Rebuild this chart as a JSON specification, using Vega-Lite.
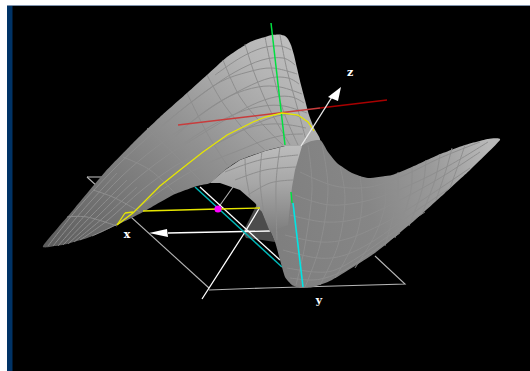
{"$schema":"https://vega.github.io/schema/vega-lite/v6.json","width":530,"height":371,"padding":0,"autosize":{"type":"none"},"background":"#000000","view":{"stroke":null},
"datasets":{
"frame":[{"x":0,"x2":530,"y":0,"y2":5,"p":"white"},{"x":0,"x2":7,"y":0,"y2":371,"p":"white"},{"x":7,"x2":530,"y":5,"y2":6,"p":"rule"},{"x":7,"x2":12.5,"y":6,"y2":371,"p":"blue"}],
"surface":[
{"s":"hole","x":257,"y":204},{"s":"hole","x":262,"y":212},{"s":"hole","x":275,"y":242},{"s":"hole","x":262,"y":240},{"s":"hole","x":246,"y":238},{"s":"hole","x":243,"y":232},
{"s":"upper","x":43,"y":246},{"s":"upper","x":74,"y":209},{"s":"upper","x":105,"y":172},{"s":"upper","x":133,"y":143},{"s":"upper","x":160,"y":117},{"s":"upper","x":187,"y":93},{"s":"upper","x":207,"y":75},{"s":"upper","x":227,"y":57},{"s":"upper","x":250,"y":42},{"s":"upper","x":265,"y":37},{"s":"upper","x":272,"y":35},{"s":"upper","x":280,"y":34.5},{"s":"upper","x":285,"y":36},{"s":"upper","x":288,"y":39},{"s":"upper","x":291,"y":45},{"s":"upper","x":294,"y":55},{"s":"upper","x":297,"y":68},{"s":"upper","x":301,"y":85},{"s":"upper","x":305,"y":100},{"s":"upper","x":309,"y":115},{"s":"upper","x":314,"y":128},{"s":"upper","x":320,"y":140},{"s":"upper","x":302,"y":146},{"s":"upper","x":285,"y":146},{"s":"upper","x":265,"y":151},{"s":"upper","x":240,"y":160},{"s":"upper","x":225,"y":170},{"s":"upper","x":210,"y":183},{"s":"upper","x":197,"y":186},{"s":"upper","x":173,"y":195},{"s":"upper","x":143,"y":212},{"s":"upper","x":117,"y":225},{"s":"upper","x":90,"y":237},{"s":"upper","x":67,"y":244},{"s":"upper","x":55,"y":246},
{"s":"lower","x":302,"y":146},{"s":"lower","x":320,"y":140},{"s":"lower","x":328,"y":152},{"s":"lower","x":337,"y":163},{"s":"lower","x":352,"y":173},{"s":"lower","x":368,"y":178},{"s":"lower","x":392,"y":175},{"s":"lower","x":412,"y":167},{"s":"lower","x":438,"y":155},{"s":"lower","x":465,"y":145},{"s":"lower","x":488,"y":139},{"s":"lower","x":500,"y":140},{"s":"lower","x":470,"y":170},{"s":"lower","x":445,"y":193},{"s":"lower","x":415,"y":220},{"s":"lower","x":375,"y":253},{"s":"lower","x":332,"y":280},{"s":"lower","x":313,"y":287},{"s":"lower","x":300,"y":288},{"s":"lower","x":292,"y":285},{"s":"lower","x":285,"y":277},{"s":"lower","x":280,"y":260},{"s":"lower","x":275,"y":242},{"s":"lower","x":262,"y":212},{"s":"lower","x":257,"y":204},
{"s":"front","x":302,"y":146},{"s":"front","x":285,"y":146},{"s":"front","x":265,"y":151},{"s":"front","x":240,"y":160},{"s":"front","x":225,"y":170},{"s":"front","x":210,"y":183},{"s":"front","x":220,"y":183},{"s":"front","x":240,"y":190},{"s":"front","x":255,"y":203},{"s":"front","x":262,"y":212},{"s":"front","x":270,"y":232},{"s":"front","x":288,"y":225},{"s":"front","x":292,"y":187},{"s":"front","x":295,"y":170}
],
"grid":[
{"s":"L1","x":48,"y":246},{"s":"L1","x":78,"y":208},{"s":"L1","x":113,"y":170},{"s":"L1","x":145,"y":140},{"s":"L1","x":175,"y":115},{"s":"L1","x":205,"y":92},{"s":"L1","x":235,"y":72},{"s":"L1","x":262,"y":60},{"s":"L1","x":283,"y":58},{"s":"L1","x":295,"y":65},
{"s":"L2","x":58,"y":246},{"s":"L2","x":88,"y":212},{"s":"L2","x":122,"y":176},{"s":"L2","x":155,"y":148},{"s":"L2","x":187,"y":125},{"s":"L2","x":215,"y":105},{"s":"L2","x":245,"y":88},{"s":"L2","x":270,"y":78},{"s":"L2","x":288,"y":78},{"s":"L2","x":299,"y":84},
{"s":"L3","x":68,"y":244},{"s":"L3","x":98,"y":216},{"s":"L3","x":132,"y":183},{"s":"L3","x":165,"y":157},{"s":"L3","x":197,"y":137},{"s":"L3","x":225,"y":120},{"s":"L3","x":252,"y":105},{"s":"L3","x":275,"y":97},{"s":"L3","x":292,"y":97},{"s":"L3","x":304,"y":103},
{"s":"L4","x":80,"y":240},{"s":"L4","x":108,"y":220},{"s":"L4","x":142,"y":190},{"s":"L4","x":175,"y":166},{"s":"L4","x":205,"y":150},{"s":"L4","x":233,"y":135},{"s":"L4","x":260,"y":122},{"s":"L4","x":282,"y":115},{"s":"L4","x":298,"y":116},{"s":"L4","x":310,"y":124},
{"s":"L5","x":92,"y":236},{"s":"L5","x":120,"y":222},{"s":"L5","x":152,"y":197},{"s":"L5","x":185,"y":175},{"s":"L5","x":215,"y":160},{"s":"L5","x":240,"y":150},{"s":"L5","x":265,"y":140},{"s":"L5","x":285,"y":135},{"s":"L5","x":303,"y":134},
{"s":"L0","x":53,"y":246},{"s":"L0","x":83,"y":210},{"s":"L0","x":117,"y":173},
{"s":"L6","x":63,"y":245},{"s":"L6","x":93,"y":214},{"s":"L6","x":127,"y":180},
{"s":"L7","x":74,"y":242},{"s":"L7","x":103,"y":218},{"s":"L7","x":137,"y":187},
{"s":"M0","x":215,"y":75},{"s":"M0","x":240,"y":58},{"s":"M0","x":262,"y":48},{"s":"M0","x":280,"y":46},{"s":"M0","x":291,"y":50},
{"s":"M1","x":160,"y":128},{"s":"M1","x":190,"y":103},{"s":"M1","x":220,"y":82},{"s":"M1","x":248,"y":72},{"s":"M1","x":272,"y":68},{"s":"M1","x":297,"y":74},
{"s":"M2","x":170,"y":141},{"s":"M2","x":200,"y":115},{"s":"M2","x":230,"y":96},{"s":"M2","x":258,"y":87},{"s":"M2","x":280,"y":87},{"s":"M2","x":302,"y":94},
{"s":"M3","x":180,"y":146},{"s":"M3","x":211,"y":126},{"s":"M3","x":240,"y":112},{"s":"M3","x":264,"y":106},{"s":"M3","x":284,"y":106},{"s":"M3","x":307,"y":113},
{"s":"M4","x":190,"y":156},{"s":"M4","x":220,"y":142},{"s":"M4","x":248,"y":128},{"s":"M4","x":271,"y":124},{"s":"M4","x":290,"y":125},{"s":"M4","x":306,"y":128},
{"s":"C0","x":67,"y":217},{"s":"C0","x":87,"y":217},{"s":"C0","x":117,"y":226},
{"s":"C1","x":93,"y":190},{"s":"C1","x":115,"y":198},{"s":"C1","x":140,"y":212},
{"s":"C2","x":123,"y":157},{"s":"C2","x":150,"y":170},{"s":"C2","x":175,"y":193},
{"s":"C3","x":147,"y":128},{"s":"C3","x":177,"y":157},{"s":"C3","x":200,"y":180},
{"s":"C4","x":187,"y":93},{"s":"C4","x":207,"y":133},{"s":"C4","x":227,"y":165},
{"s":"C5","x":207,"y":75},{"s":"C5","x":223,"y":103},{"s":"C5","x":247,"y":133},{"s":"C5","x":265,"y":150},
{"s":"C6","x":223,"y":60},{"s":"C6","x":240,"y":97},{"s":"C6","x":265,"y":127},{"s":"C6","x":283,"y":145},
{"s":"C7","x":245,"y":44},{"s":"C7","x":255,"y":75},{"s":"C7","x":270,"y":110},{"s":"C7","x":290,"y":145},
{"s":"C8","x":265,"y":37},{"s":"C8","x":272,"y":70},{"s":"C8","x":283,"y":110},{"s":"C8","x":298,"y":145},
{"s":"C9","x":280,"y":35},{"s":"C9","x":287,"y":70},{"s":"C9","x":298,"y":110},{"s":"C9","x":306,"y":140},
{"s":"F1","x":225,"y":172},{"s":"F1","x":260,"y":160},{"s":"F1","x":298,"y":155},
{"s":"F2","x":235,"y":180},{"s":"F2","x":265,"y":170},{"s":"F2","x":296,"y":167},
{"s":"F3","x":248,"y":195},{"s":"F3","x":270,"y":183},{"s":"F3","x":293,"y":180},
{"s":"F4","x":262,"y":151},{"s":"F4","x":260,"y":180},{"s":"F4","x":264,"y":215},
{"s":"F5","x":280,"y":147},{"s":"F5","x":276,"y":185},{"s":"F5","x":277,"y":240},
{"s":"F6","x":245,"y":158},{"s":"F6","x":246,"y":175},{"s":"F6","x":250,"y":197},
{"s":"W0","x":480,"y":142},{"s":"W0","x":440,"y":158},{"s":"W0","x":405,"y":175},{"s":"W0","x":370,"y":187},{"s":"W0","x":335,"y":186},{"s":"W0","x":300,"y":172},
{"s":"W1","x":488,"y":142},{"s":"W1","x":450,"y":165},{"s":"W1","x":410,"y":185},{"s":"W1","x":370,"y":200},{"s":"W1","x":330,"y":205},{"s":"W1","x":295,"y":195},
{"s":"W2","x":480,"y":152},{"s":"W2","x":440,"y":178},{"s":"W2","x":400,"y":200},{"s":"W2","x":360,"y":218},{"s":"W2","x":325,"y":222},{"s":"W2","x":290,"y":215},
{"s":"W3","x":470,"y":168},{"s":"W3","x":430,"y":195},{"s":"W3","x":390,"y":220},{"s":"W3","x":350,"y":238},{"s":"W3","x":320,"y":242},{"s":"W3","x":285,"y":235},
{"s":"W4","x":450,"y":188},{"s":"W4","x":410,"y":215},{"s":"W4","x":375,"y":240},{"s":"W4","x":345,"y":255},{"s":"W4","x":318,"y":258},{"s":"W4","x":283,"y":250},
{"s":"W5","x":425,"y":212},{"s":"W5","x":390,"y":235},{"s":"W5","x":360,"y":256},{"s":"W5","x":335,"y":270},{"s":"W5","x":315,"y":272},{"s":"W5","x":287,"y":268},
{"s":"W5b","x":400,"y":233},{"s":"W5b","x":372,"y":252},{"s":"W5b","x":345,"y":270},{"s":"W5b","x":325,"y":278},{"s":"W5b","x":310,"y":280},{"s":"W5b","x":290,"y":278},
{"s":"X1","x":465,"y":145},{"s":"X1","x":460,"y":160},{"s":"X1","x":450,"y":188},
{"s":"X1b","x":452,"y":148},{"s":"X1b","x":446,"y":170},{"s":"X1b","x":436,"y":200},
{"s":"X2","x":440,"y":154},{"s":"X2","x":435,"y":180},{"s":"X2","x":422,"y":214},
{"s":"X2b","x":426,"y":160},{"s":"X2b","x":422,"y":190},{"s":"X2b","x":409,"y":226},
{"s":"X3","x":412,"y":167},{"s":"X3","x":410,"y":195},{"s":"X3","x":395,"y":238},
{"s":"X3b","x":398,"y":172},{"s":"X3b","x":397,"y":200},{"s":"X3b","x":385,"y":246},
{"s":"X4","x":385,"y":176},{"s":"X4","x":385,"y":205},{"s":"X4","x":375,"y":235},{"s":"X4","x":355,"y":268},
{"s":"X5","x":360,"y":176},{"s":"X5","x":362,"y":205},{"s":"X5","x":355,"y":240},{"s":"X5","x":335,"y":278},
{"s":"X6","x":340,"y":166},{"s":"X6","x":345,"y":200},{"s":"X6","x":338,"y":245},{"s":"X6","x":320,"y":285},
{"s":"X7","x":322,"y":145},{"s":"X7","x":328,"y":190},{"s":"X7","x":320,"y":245},{"s":"X7","x":305,"y":287},
{"s":"X8","x":308,"y":145},{"s":"X8","x":312,"y":190},{"s":"X8","x":305,"y":245},{"s":"X8","x":296,"y":285}
],
"ground":[
{"s":"b1","x":87,"y":177},{"s":"b1","x":209,"y":288},
{"s":"b2","x":87,"y":177},{"s":"b2","x":108,"y":177},
{"s":"b3","x":209,"y":290},{"s":"b3","x":265,"y":288},{"s":"b3","x":405,"y":284},{"s":"b3","x":375,"y":256},
{"s":"b4","x":233,"y":187},{"s":"b4","x":218,"y":208}
],
"white":[
{"s":"zlow","x":202,"y":299},{"s":"zlow","x":245,"y":232},{"s":"zlow","x":260,"y":207},
{"s":"par","x":200,"y":187},{"s":"par","x":280,"y":260},
{"s":"xaxis","x":270,"y":231},{"s":"xaxis","x":168,"y":233}
],
"top":[
{"s":"zhigh","x":301,"y":146},{"s":"zhigh","x":332,"y":97}
],
"heads":[
{"s":"hz","x":341,"y":87},{"s":"hz","x":328,"y":97},{"s":"hz","x":338,"y":101},
{"s":"hx","x":149,"y":233},{"s":"hx","x":167,"y":229},{"s":"hx","x":168,"y":237}
],
"yellow":[
{"s":"y1","x":117,"y":225},{"s":"y1","x":133,"y":213},{"s":"y1","x":153,"y":193},{"s":"y1","x":160,"y":186},{"s":"y1","x":180,"y":170},{"s":"y1","x":203,"y":152},{"s":"y1","x":227,"y":135},{"s":"y1","x":253,"y":122},{"s":"y1","x":265,"y":117},{"s":"y1","x":282,"y":113},{"s":"y1","x":298,"y":115},{"s":"y1","x":308,"y":122},{"s":"y1","x":314,"y":131},
{"s":"y2","x":125,"y":213},{"s":"y2","x":133,"y":212},
{"s":"y3","x":125,"y":213},{"s":"y3","x":117,"y":225},
{"s":"y4","x":143,"y":211},{"s":"y4","x":218,"y":209},{"s":"y4","x":260,"y":208}
],
"cyan":[{"s":"c1","x":195,"y":187},{"s":"c1","x":282,"y":267},{"s":"c2","x":293,"y":203},{"s":"c2","x":303,"y":287}],
"green":[{"s":"g1","x":271,"y":23},{"s":"g1","x":285,"y":145},{"s":"g2","x":291,"y":192},{"s":"g2","x":292,"y":203}],
"red":[{"s":"r1","x":178,"y":125},{"s":"r1","x":320,"y":108}],
"red2":[{"s":"r2","x":320,"y":108},{"s":"r2","x":387,"y":100}],
"pt":[{"x":218,"y":209}],
"labels":[{"x":350,"y":73,"t":"z"},{"x":127,"y":235,"t":"x"},{"x":319,"y":301,"t":"y"}]
},
"encoding":{"x":{"field":"x","type":"quantitative","axis":null,"scale":{"domain":[0,530],"nice":false,"zero":false}},"y":{"field":"y","type":"quantitative","axis":null,"scale":{"domain":[371,0],"nice":false,"zero":false}}},
"layer":[
{"data":{"name":"frame"},"mark":{"type":"rect"},"encoding":{"x2":{"field":"x2"},"y2":{"field":"y2"},"color":{"field":"p","type":"nominal","legend":null,"scale":{"domain":["white","rule","blue"],"range":["#ffffff","#7f93ad","#003366"]}}}},
{"data":{"name":"ground"},"mark":{"type":"line","stroke":"#b4b4b4","strokeWidth":1.1},"encoding":{"detail":{"field":"s"},"order":{"value":null}}},
{"data":{"name":"surface"},"transform":[{"filter":"datum.s=='hole'"}],"mark":{"type":"line","filled":true,"interpolate":"linear-closed","fill":"#4c4c4c","stroke":null},"encoding":{"order":{"value":null}}},
{"data":{"name":"white"},"mark":{"type":"line","stroke":"#ffffff","strokeWidth":1.3},"encoding":{"detail":{"field":"s"},"order":{"value":null}}},
{"data":{"name":"cyan"},"transform":[{"filter":"datum.s=='c1'"}],"mark":{"type":"line","stroke":"#00b8b8","strokeWidth":1.5},"encoding":{"order":{"value":null}}},
{"data":{"name":"surface"},"transform":[{"filter":"datum.s=='upper'"}],"mark":{"type":"line","filled":true,"interpolate":"cardinal-closed","tension":0.5,"stroke":null,"fill":{"gradient":"linear","x1":0,"y1":1,"x2":1,"y2":0,"stops":[{"offset":0,"color":"#5c5c5c"},{"offset":0.3,"color":"#7a7a7a"},{"offset":0.55,"color":"#949494"},{"offset":0.8,"color":"#b4b4b4"},{"offset":1,"color":"#c4c4c4"}]}},"encoding":{"order":{"value":null}}},
{"data":{"name":"surface"},"transform":[{"filter":"datum.s=='lower'"}],"mark":{"type":"line","filled":true,"interpolate":"cardinal-closed","tension":0.5,"stroke":null,"fill":{"gradient":"linear","x1":0,"y1":0.5,"x2":1,"y2":0.3,"stops":[{"offset":0,"color":"#7e7e7e"},{"offset":0.45,"color":"#868686"},{"offset":0.75,"color":"#9a9a9a"},{"offset":1,"color":"#b8b8b8"}]}},"encoding":{"order":{"value":null}}},
{"data":{"name":"surface"},"transform":[{"filter":"datum.s=='front'"}],"mark":{"type":"line","filled":true,"interpolate":"linear-closed","stroke":null,"fill":{"gradient":"linear","x1":0.5,"y1":0,"x2":0.5,"y2":1,"stops":[{"offset":0,"color":"#bcbcbc"},{"offset":0.45,"color":"#a6a6a6"},{"offset":1,"color":"#7e7e7e"}]}},"encoding":{"order":{"value":null}}},
{"data":{"name":"grid"},"mark":{"type":"line","stroke":"#8e8e8e","strokeWidth":1,"interpolate":"cardinal"},"encoding":{"detail":{"field":"s"},"order":{"value":null}}},
{"data":{"name":"green"},"mark":{"type":"line","stroke":"#00e040","strokeWidth":1.5},"encoding":{"detail":{"field":"s"},"order":{"value":null}}},
{"data":{"name":"red"},"mark":{"type":"line","stroke":"#c83c3c","strokeWidth":1.5},"encoding":{"detail":{"field":"s"},"order":{"value":null}}},
{"data":{"name":"red2"},"mark":{"type":"line","stroke":"#a80000","strokeWidth":1.3},"encoding":{"detail":{"field":"s"},"order":{"value":null}}},
{"data":{"name":"yellow"},"mark":{"type":"line","stroke":"#e6e600","strokeWidth":1.3},"encoding":{"detail":{"field":"s"},"order":{"value":null}}},
{"data":{"name":"cyan"},"transform":[{"filter":"datum.s=='c2'"}],"mark":{"type":"line","stroke":"#00e5e5","strokeWidth":1.6},"encoding":{"order":{"value":null}}},
{"data":{"name":"top"},"mark":{"type":"line","stroke":"#e8e8e8","strokeWidth":1.4},"encoding":{"detail":{"field":"s"},"order":{"value":null}}},
{"data":{"name":"heads"},"mark":{"type":"line","filled":true,"interpolate":"linear-closed","fill":"#ffffff","stroke":null},"encoding":{"detail":{"field":"s"},"order":{"value":null}}},
{"data":{"name":"pt"},"mark":{"type":"circle","size":50,"color":"#ff00ff","opacity":1}},
{"data":{"name":"labels"},"mark":{"type":"text","font":"DejaVu Serif","fontSize":11,"fontWeight":"bold","color":"#ffffff"},"encoding":{"text":{"field":"t"}}}
]}
